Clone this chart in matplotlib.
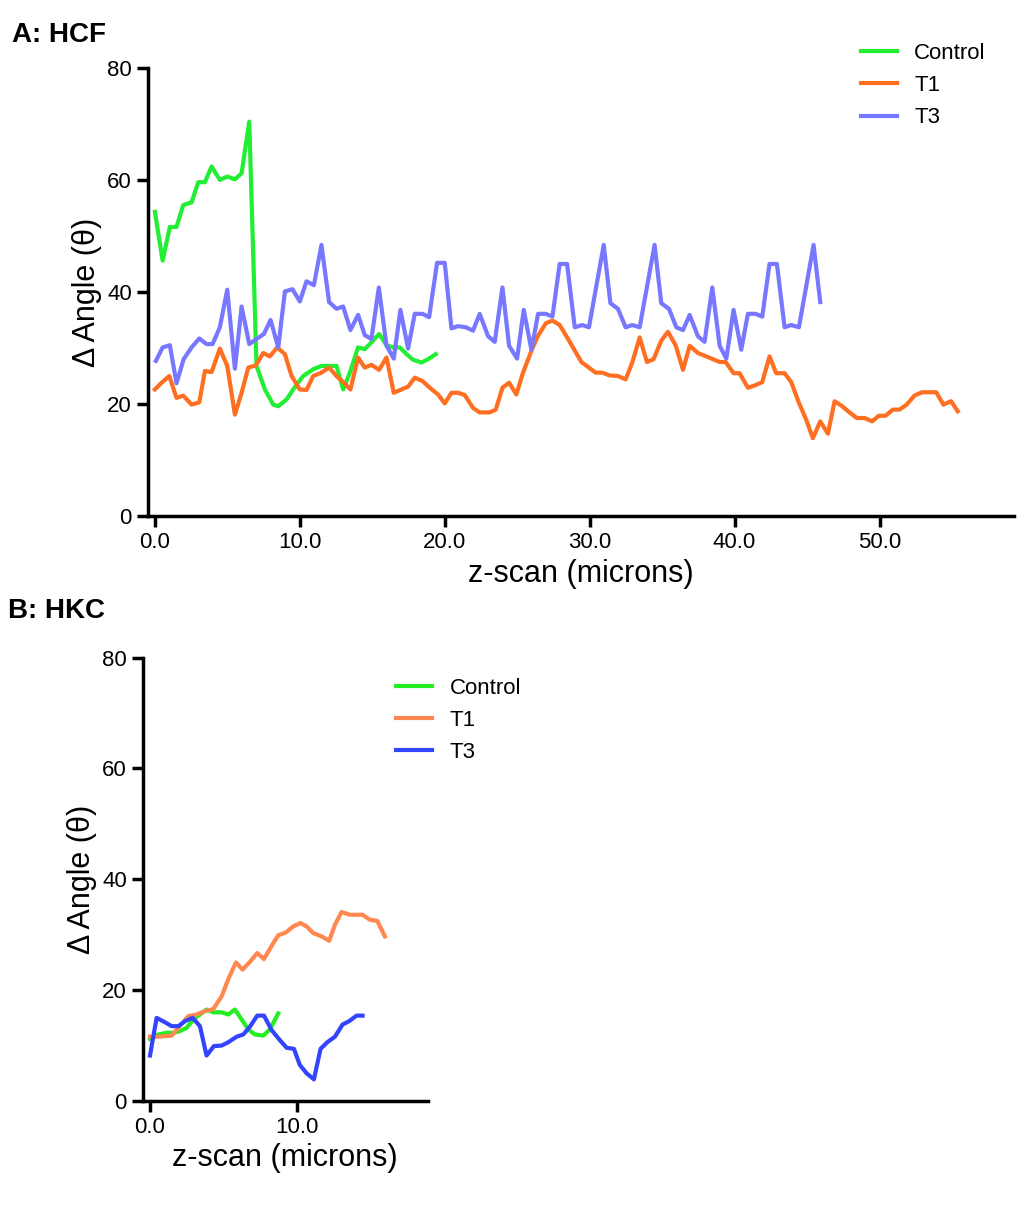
import numpy as np
import matplotlib.pyplot as plt

plt.rcParams['font.family'] = 'Liberation Sans'

# ---- panel A: HCF ----
a_ctrl_x = [0.0, 0.53, 1.03, 1.49, 1.95, 2.53, 2.99, 3.45, 3.91, 4.48, 4.99, 5.52, 5.98, 6.51,
            7.01, 7.59, 8.16, 8.51, 9.08, 9.54, 10.23, 10.92, 11.49, 12.53, 12.99, 13.45, 14.02,
            14.48, 14.94, 15.47, 15.98, 16.44, 16.90, 17.36, 17.82, 18.39, 18.85, 19.38]
a_ctrl_y = [54.3, 45.6, 51.6, 51.6, 55.5, 56.0, 59.6, 59.6, 62.4, 60.0, 60.6, 60.1, 61.2, 70.4,
            26.8, 22.6, 19.9, 19.6, 20.8, 22.6, 25.0, 26.2, 26.8, 26.8, 22.6, 25.6, 30.1,
            29.8, 31.0, 32.5, 30.5, 30.1, 30.1, 28.9, 27.9, 27.4, 28.0, 28.9]

a_t1_x = [0.0, 0.46, 0.99, 1.49, 1.95, 2.53, 3.06, 3.45, 3.91, 4.48, 4.99, 5.52, 5.98, 6.44,
          6.97, 7.47, 7.93, 8.44, 8.97, 9.43, 10.0, 10.46, 10.92, 11.49, 12.02, 12.53, 12.99,
          13.49, 14.02, 14.48, 14.94, 15.47, 15.98, 16.48, 17.01, 17.47, 17.93, 18.46, 18.97,
          19.54, 20.0, 20.46, 20.92, 21.38, 21.95, 22.41, 22.64, 23.1, 23.52, 23.98, 24.44,
          24.94, 25.40, 25.98, 26.44, 26.97, 27.43, 27.93, 28.51, 29.43, 30.41, 30.87, 31.38,
          31.95, 32.48, 32.94, 33.45, 33.95, 34.41, 34.94, 35.40, 35.93, 36.44, 36.90, 37.47,
          38.05, 38.51, 38.97, 39.38, 39.93, 40.34, 40.92, 41.38, 41.91, 42.41, 42.87, 43.45,
          43.91, 44.44, 44.94, 45.40, 45.91, 46.44, 46.90, 47.43, 47.93, 48.44, 48.97, 49.49,
          49.95, 50.41, 50.92, 51.38, 51.88, 52.41, 52.94, 53.45, 53.91, 54.41, 54.94, 55.40]
a_t1_y = [22.6, 23.8, 25.0, 21.1, 21.5, 19.9, 20.3, 25.9, 25.7, 29.9, 26.8, 18.1, 22.0, 26.5,
          26.9, 29.1, 28.5, 30.1, 28.9, 25.0, 22.6, 22.5, 25.0, 25.6, 26.5, 25.0, 23.9,
          22.6, 28.3, 26.5, 27.0, 26.1, 28.3, 22.0, 22.6, 23.1, 24.7, 24.1, 22.9,
          21.7, 20.1, 22.0, 22.0, 21.6, 19.3, 18.5, 18.5, 18.5, 19.0, 22.9, 23.8,
          21.7, 25.6, 29.5, 32.2, 34.4, 34.9, 34.1, 31.6, 27.5, 25.6, 25.6, 25.1,
          25.0, 24.4, 27.4, 31.9, 27.5, 28.0, 31.3, 32.9, 30.5, 26.1, 30.4, 29.1,
          28.5, 28.0, 27.5, 27.5, 25.5, 25.5, 22.9, 23.3, 23.9, 28.5, 25.5, 25.5,
          23.9, 20.2, 17.2, 13.9, 16.9, 14.7, 20.5, 19.6, 18.5, 17.5, 17.5, 16.9,
          17.9, 17.9, 19.0, 19.0, 19.9, 21.5, 22.1, 22.1, 22.1, 19.9, 20.5, 18.7]

a_t3_x = [0.07, 0.53, 1.03, 1.49, 1.98, 2.53, 3.06, 3.56, 3.98, 4.48, 4.99, 5.52, 5.98, 6.51,
          7.01, 7.52, 7.98, 8.51, 8.97, 9.49, 10.0, 10.46, 10.97, 11.49, 12.02, 12.53, 12.99,
          13.49, 14.02, 14.48, 14.94, 15.45, 15.98, 16.48, 16.94, 17.47, 17.93, 18.46, 18.92,
          19.47, 20.0, 20.46, 20.92, 21.45, 21.95, 22.41, 22.99, 23.45, 23.98, 24.44, 24.99,
          25.45, 25.98, 26.44, 26.97, 27.43, 27.93, 28.44, 28.97, 29.49, 29.95, 30.97, 31.43,
          31.95, 32.48, 32.94, 33.45, 34.48, 34.94, 35.47, 35.98, 36.44, 36.90, 37.47, 37.93,
          38.46, 38.97, 39.43, 39.93, 40.46, 40.92, 41.45, 41.91, 42.41, 42.92, 43.45, 43.91,
          44.44, 45.45, 45.91]
a_t3_y = [27.7, 30.1, 30.5, 23.7, 28.0, 30.1, 31.7, 30.7, 30.7, 33.7, 40.4, 26.3, 37.4, 30.7,
          31.6, 32.5, 35.0, 30.1, 40.1, 40.5, 38.3, 41.9, 41.2, 48.4, 38.2, 37.0, 37.4,
          33.2, 35.9, 32.3, 31.6, 40.8, 30.4, 28.1, 36.8, 29.9, 36.1, 36.1, 35.5,
          45.2, 45.2, 33.5, 33.9, 33.7, 33.1, 36.1, 32.1, 31.1, 40.8, 30.4, 28.1,
          36.8, 29.7, 36.1, 36.1, 35.6, 45.0, 45.0, 33.7, 34.1, 33.7, 48.4, 38.0,
          37.0, 33.7, 34.1, 33.7, 48.4, 38.0, 37.0, 33.7, 33.2, 35.9, 32.1, 31.1,
          40.8, 30.4, 28.1, 36.8, 29.7, 36.1, 36.1, 35.6, 45.0, 45.0, 33.7, 34.1,
          33.7, 48.4, 38.2]

# ---- panel B: HKC ----
b_ctrl_x = [0.0, 0.57, 1.13, 1.59, 2.04, 2.49, 2.95, 3.40, 3.85, 4.31, 4.88, 5.33, 5.78,
            6.24, 6.69, 7.14, 7.71, 8.16, 8.73]
b_ctrl_y = [11.2, 12.0, 12.3, 12.3, 12.6, 13.2, 14.7, 15.6, 16.5, 16.0, 16.0, 15.6, 16.5,
            14.7, 12.9, 12.0, 11.8, 12.9, 15.8]

b_t1_x = [0.0, 0.57, 1.47, 1.93, 2.61, 3.17, 3.74, 4.31, 4.88, 5.33, 5.85, 6.30, 6.80, 7.30,
          7.76, 8.28, 8.73, 9.25, 9.75, 10.25, 10.66, 11.11, 11.68, 12.20, 12.59, 13.04,
          13.61, 14.47, 14.97, 15.47, 15.99]
b_t1_y = [11.6, 11.6, 11.8, 13.2, 15.3, 15.6, 16.2, 16.6, 18.9, 22.0, 25.0, 23.7, 25.1, 26.7,
          25.6, 28.0, 29.9, 30.4, 31.5, 32.1, 31.5, 30.3, 29.7, 28.9, 31.8, 34.1,
          33.6, 33.6, 32.7, 32.5, 29.7]

b_t3_x = [0.0, 0.45, 1.02, 1.47, 1.93, 2.38, 2.90, 3.40, 3.85, 4.35, 4.88, 5.33, 5.90, 6.35,
          6.80, 7.30, 7.76, 8.28, 8.80, 9.30, 9.80, 10.2, 10.66, 11.16, 11.61, 12.07, 12.59,
          13.11, 13.56, 14.06, 14.47]
b_t3_y = [8.2, 15.0, 14.2, 13.5, 13.5, 14.4, 15.0, 13.5, 8.2, 9.9, 10.0, 10.6, 11.6, 12.0,
          13.4, 15.4, 15.4, 12.8, 11.1, 9.6, 9.4, 6.5, 5.0, 3.9, 9.4, 10.6, 11.6,
          13.8, 14.4, 15.4, 15.4]

fig = plt.figure(figsize=(10.24, 12.08), dpi=100)


def style(ax, xlim, xticks):
    for s in ['top', 'right']:
        ax.spines[s].set_visible(False)
    for s in ['left', 'bottom']:
        ax.spines[s].set_linewidth(2.5)
    ax.set_xlim(*xlim)
    ax.set_ylim(0, 80)
    ax.set_xticks(xticks)
    ax.set_xticklabels(['%.1f' % t for t in xticks])
    ax.set_yticks([0, 20, 40, 60, 80])
    ax.tick_params(width=2.5, length=8, labelsize=16)
    ax.set_xlabel('z-scan (microns)', fontsize=22)
    ax.set_ylabel('Δ Angle (θ)', fontsize=22)


axA = fig.add_axes([0.1445, 0.5728, 0.846, 0.371])
axA.plot(a_ctrl_x, a_ctrl_y, color='#22ee33', lw=3, label='Control')
axA.plot(a_t1_x, a_t1_y, color='#ff6f22', lw=3, label='T1')
axA.plot(a_t3_x, a_t3_y, color='#7777ff', lw=3, label='T3')
style(axA, (-0.48, 59.3), [0, 10, 20, 30, 40, 50])
axA.legend(loc='upper left', bbox_to_anchor=(0.8, 1.1), frameon=False, fontsize=16,
           handlelength=1.6)
fig.text(0.012, 0.965, 'A: HCF', fontsize=20, fontweight='bold')

axB = fig.add_axes([0.1396, 0.0886, 0.278, 0.367])
axB.plot(b_ctrl_x, b_ctrl_y, color='#22ee22', lw=3, label='Control')
axB.plot(b_t1_x, b_t1_y, color='#ff8850', lw=3, label='T1')
axB.plot(b_t3_x, b_t3_y, color='#3344ff', lw=3, label='T3')
style(axB, (-0.48, 18.9), [0, 10])
axB.legend(loc='upper left', bbox_to_anchor=(0.82, 1.0), frameon=False, fontsize=16,
           handlelength=1.6)
fig.text(0.008, 0.488, 'B: HKC', fontsize=20, fontweight='bold')

fig.savefig('out.png', dpi=100)
